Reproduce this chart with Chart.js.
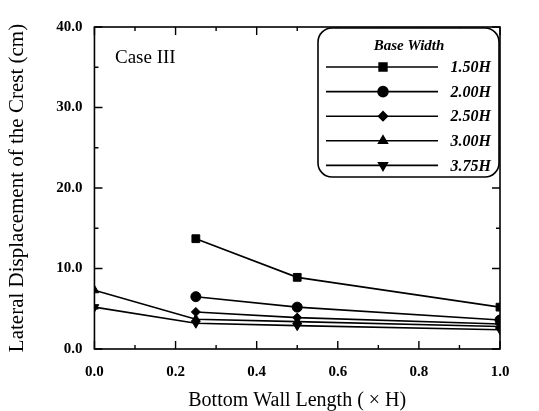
<!DOCTYPE html>
<html>
<head>
<meta charset="utf-8">
<script src="https://cdn.jsdelivr.net/npm/chart.js@4"></script>
<style>
  html, body { margin: 0; padding: 0; background: #fff; }
  #wrap { width: 539px; height: 411px; }
</style>
</head>
<body>
<div id="wrap"><canvas id="crestChart" width="539" height="411"></canvas></div>
<script>
// bottom wall length (x H)
const wallLength = [0.0, 0.25, 0.5, 1.0];
const baseWidths = ['1.50H', '2.00H', '2.50H', '3.00H', '3.75H'];

// lateral displacement of the crest (cm), null = not tested
const disp150 = [null, 13.7, 8.9, 5.2];
const disp200 = [null, 6.5, 5.2, 3.6];
const disp250 = [null, 4.6, 3.9, 3.1];
const disp300 = [7.3, 3.7, 3.4, 2.8];
const disp375 = [5.2, 3.2, 2.9, 2.4];

const xTicks = [0, 0.2, 0.4, 0.6, 0.8, 1.0];
const yTicks = [0, 10, 20, 30, 40];

const serif = '"Liberation Serif", "DejaVu Serif", serif';

function toPoints(vals) {
    return wallLength.map((x, i) => ({ x: x, y: vals[i] })).filter(p => p.y !== null);
}

const markers = [
    { style: 'rect', r: 5.5, rot: 0 },
    { style: 'circle', r: 5, rot: 0 },
    { style: 'rectRot', r: 4.5, rot: 0 },
    { style: 'triangle', r: 5, rot: 0 },
    { style: 'triangle', r: 5, rot: 180 }
];
const allData = [disp150, disp200, disp250, disp300, disp375];

const datasets = baseWidths.map((name, i) => ({
    label: name,
    data: toPoints(allData[i]),
    showLine: true,
    borderColor: '#000',
    backgroundColor: '#000',
    borderWidth: 1.6,
    pointStyle: markers[i].style,
    pointRadius: markers[i].r,
    pointRotation: markers[i].rot,
    pointBorderWidth: 1
}));

// inward ticks on all four sides plus the frame
const frameTicks = {
    id: 'frameTicks',
    afterDatasetsDraw(chart) {
        const c = chart.ctx;
        const a = chart.chartArea;
        const xs = chart.scales.x, ys = chart.scales.y;
        c.save();
        c.strokeStyle = '#000';
        c.lineWidth = 1.6;
        c.strokeRect(a.left, a.top, a.right - a.left, a.bottom - a.top);
        c.lineWidth = 1.4;
        for (let v = 0; v <= 10; v++) {
            const px = xs.getPixelForValue(v / 10);
            const len = v % 2 === 0 ? 8 : 4;
            c.beginPath();
            c.moveTo(px, a.bottom); c.lineTo(px, a.bottom - len);
            c.moveTo(px, a.top); c.lineTo(px, a.top + len);
            c.stroke();
        }
        for (let v = 0; v <= 40; v += 5) {
            const py = ys.getPixelForValue(v);
            const len = v % 10 === 0 ? 8 : 4;
            c.beginPath();
            c.moveTo(a.left, py); c.lineTo(a.left + len, py);
            c.moveTo(a.right, py); c.lineTo(a.right - len, py);
            c.stroke();
        }
        c.font = '19px ' + serif;
        c.fillStyle = '#000';
        c.textBaseline = 'middle';
        c.fillText('Case III', 115, 58);
        c.restore();
    }
};

// boxed legend with line + marker samples
const boxLegend = {
    id: 'boxLegend',
    afterDraw(chart) {
        const c = chart.ctx;
        const x0 = 318, y0 = 28, w = 181, h = 149, r = 14;
        c.save();
        c.fillStyle = '#fff';
        c.strokeStyle = '#000';
        c.lineWidth = 1.6;
        c.beginPath();
        c.roundRect(x0, y0, w, h, r);
        c.fill();
        c.stroke();
        c.fillStyle = '#000';
        c.textBaseline = 'middle';
        c.textAlign = 'center';
        c.font = 'italic bold 15px ' + serif;
        c.fillText('Base Width', 409, 46);
        c.textAlign = 'right';
        chart.data.datasets.forEach((ds, i) => {
            const y = 67 + i * 24.6;
            c.lineWidth = 1.6;
            c.beginPath();
            c.moveTo(326, y); c.lineTo(438, y);
            c.stroke();
            Chart.helpers.drawPoint(c, {
                pointStyle: ds.pointStyle,
                radius: ds.pointRadius,
                rotation: ds.pointRotation,
                borderWidth: 1
            }, 383, y);
            c.font = 'italic bold 16px ' + serif;
            c.fillText(ds.label, 491, y + 1);
        });
        c.restore();
    }
};

new Chart(document.getElementById('crestChart'), {
    type: 'scatter',
    data: { datasets: datasets },
    options: {
        responsive: false,
        animation: false,
        layout: { padding: { left: 5, right: 39, top: 27, bottom: 0 } },
        plugins: {
            legend: { display: false },
            tooltip: { enabled: false }
        },
        scales: {
            x: {
                type: 'linear',
                min: 0, max: 1,
                afterBuildTicks: s => { s.ticks = xTicks.map(v => ({ value: v })); },
                grid: { display: false, drawTicks: false },
                border: { display: false },
                ticks: {
                    color: '#000',
                    padding: 14,
                    font: { family: serif, size: 15, weight: 'bold' },
                    callback: v => Number(v).toFixed(1)
                },
                title: {
                    display: true,
                    text: 'Bottom Wall Length ( \u00d7 H)',
                    color: '#000',
                    font: { family: serif, size: 20 },
                    padding: { top: -6, bottom: -2 }
                }
            },
            y: {
                type: 'linear',
                min: 0, max: 40,
                afterBuildTicks: s => { s.ticks = yTicks.map(v => ({ value: v })); },
                grid: { display: false, drawTicks: false },
                border: { display: false },
                ticks: {
                    color: '#000',
                    padding: 12,
                    font: { family: serif, size: 15, weight: 'bold' },
                    callback: v => Number(v).toFixed(1)
                },
                title: {
                    display: true,
                    text: 'Lateral Displacement of the Crest (cm)',
                    color: '#000',
                    font: { family: serif, size: 21 },
                    padding: { top: 0, bottom: 14 }
                }
            }
        }
    },
    plugins: [frameTicks, boxLegend]
});
</script>
</body>
</html>
